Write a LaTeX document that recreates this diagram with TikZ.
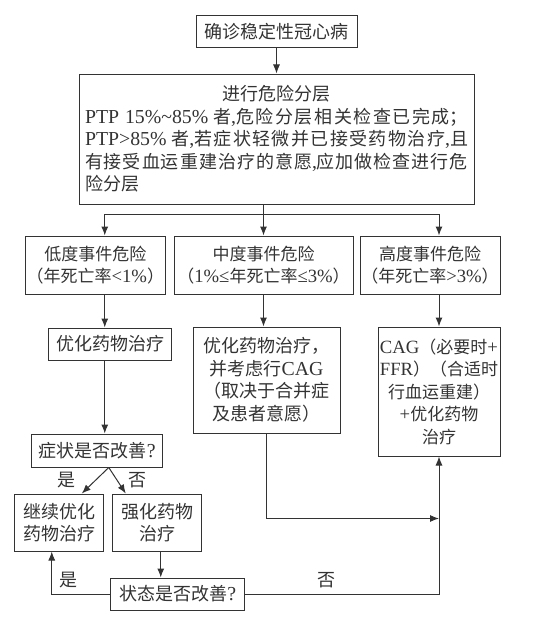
\documentclass[tikz,border=0pt]{standalone}
\usepackage{fontspec}
\setmainfont{Noto Sans CJK SC}
\newfontfamily\latin[Scale=1.1]{Liberation Serif}
\newcommand{\en}[1]{{\latin #1}}
\usetikzlibrary{arrows.meta, positioning, calc}
\definecolor{ink}{HTML}{333333}
\tikzset{
  box/.style  = {rectangle, draw=ink, line width=1pt, text=ink, align=center,
                 inner sep=2pt, font=\fontsize{18}{22.5}\selectfont},
  small/.style = {font=\fontsize{17}{22.5}\selectfont, inner xsep=1pt},
  flow/.style = {-{Latex[length=9pt,width=7pt]}, draw=ink, line width=1pt},
  link/.style = {draw=ink, line width=1pt},
  tag/.style  = {text=ink, inner sep=1pt, font=\fontsize{18}{20}\selectfont},
}

\begin{document}
\begin{tikzpicture}[node distance=25pt]
  \useasboundingbox (0,0) rectangle (550pt,-618pt);
  \node[box, minimum width=161pt, minimum height=32pt] (start) at (276.5pt,-32pt) {确诊稳定性冠心病};
  \node[box, below=25pt of start, text width=383pt, inner xsep=6pt, minimum height=130pt, align=justify] (strat)
    {\XeTeXlinebreaklocale "zh"\XeTeXlinebreakskip=0pt plus 4pt
     \makebox[383pt]{进行危险分层}\linebreak
     \en{PTP 15\%\textasciitilde85\%} 者\en{,}危险分层相关检查已完成；\linebreak
     \en{PTP>85\%} 者\en{,}若症状轻微并已接受药物治疗\en{,}且\linebreak
     有接受血运重建治疗的意愿\en{,}应加做检查进行危\linebreak
     险分层};
  \node[box, small, below=31pt of strat, xshift=-13pt, minimum width=179pt, minimum height=58pt] (mid) {中度事件危险\\（\en{1\%≤}年死亡率\en{≤3\%}）};
  \node[box, small, left=8pt of mid, minimum width=139pt, minimum height=58pt] (low) {低度事件危险\\（年死亡率\en{<1\%}）};
  \node[box, small, right=6pt of mid, minimum width=140pt, minimum height=58pt] (high) {高度事件危险\\（年死亡率\en{>3\%}）};
  \node[box, below=33pt of low, xshift=15pt, minimum width=123pt, minimum height=32pt] (lowtx) {优化药物治疗};
  \node[box, below=32pt of mid, xshift=3pt, minimum width=147pt, minimum height=106pt] (midtx) {优化药物治疗，\\并考虑行\en{CAG}\\（取决于合并症\\及患者意愿）};
  \node[box, small, below=32pt of high, xshift=9pt, minimum width=122pt, minimum height=129pt] (hightx) {\en{CAG}（必要时\en{+}\\\en{FFR}）（合适时\\行血运重建）\\\en{+}优化药物\\治疗};
  \node[box, below=73pt of lowtx, xshift=-13pt, minimum width=131pt, minimum height=33pt] (sym) {症状是否改善\en{?}};
  \node[box, below=26pt of sym, xshift=-38pt, minimum width=89pt, minimum height=57pt] (keep) {继续优化\\药物治疗};
  \node[box, right=8pt of keep, minimum width=89pt, minimum height=57pt] (boost) {强化药物\\治疗};
  \node[box, below=26pt of boost, xshift=20.5pt, minimum width=134pt, minimum height=32pt] (state) {状态是否改善\en{?}};

  \draw[flow] (start) -- (strat);
  \draw[link] (strat.south -| mid.north) -- ++(0,-10pt) coordinate (split);
  \draw[flow] (split) -| ([xshift=9.5pt]low.north);
  \draw[flow] (split) -- (mid);
  \draw[flow] (split) -| ([xshift=9pt]high.north);
  \draw[flow] ([xshift=9.5pt]low.south) -- ([xshift=9.5pt]low.south |- lowtx.north);
  \draw[flow] (mid.south) -- (mid.south |- midtx.north);
  \draw[flow] ([xshift=9pt]high.south) -- (hightx.north);
  \draw[flow] ([xshift=9.5pt]low.south |- lowtx.south) -- ([xshift=9.5pt]low.south |- sym.north);
  \draw[flow] ([xshift=11.5pt]sym.south) -- node[tag, left=18pt] {是} ([xshift=22.5pt]keep.north);
  \draw[flow] ([xshift=11.5pt]sym.south) -- node[tag, right=10pt] {否} ([xshift=-31.5pt]boost.north);
  \draw[flow] ([xshift=3.5pt]boost.south) -- ([xshift=3.5pt]boost.south |- state.north);
  \draw[flow] (state.west) -| node[tag, pos=0.5, xshift=17pt, yshift=14pt] {是} ([xshift=-7.5pt]keep.south);
  \draw[flow] (state.east) -| node[tag, pos=0.21, above=5pt] {否} (hightx.south);
  \draw[flow] (midtx.south) |- ([yshift=-62pt]hightx.south);
\end{tikzpicture}
\end{document}
